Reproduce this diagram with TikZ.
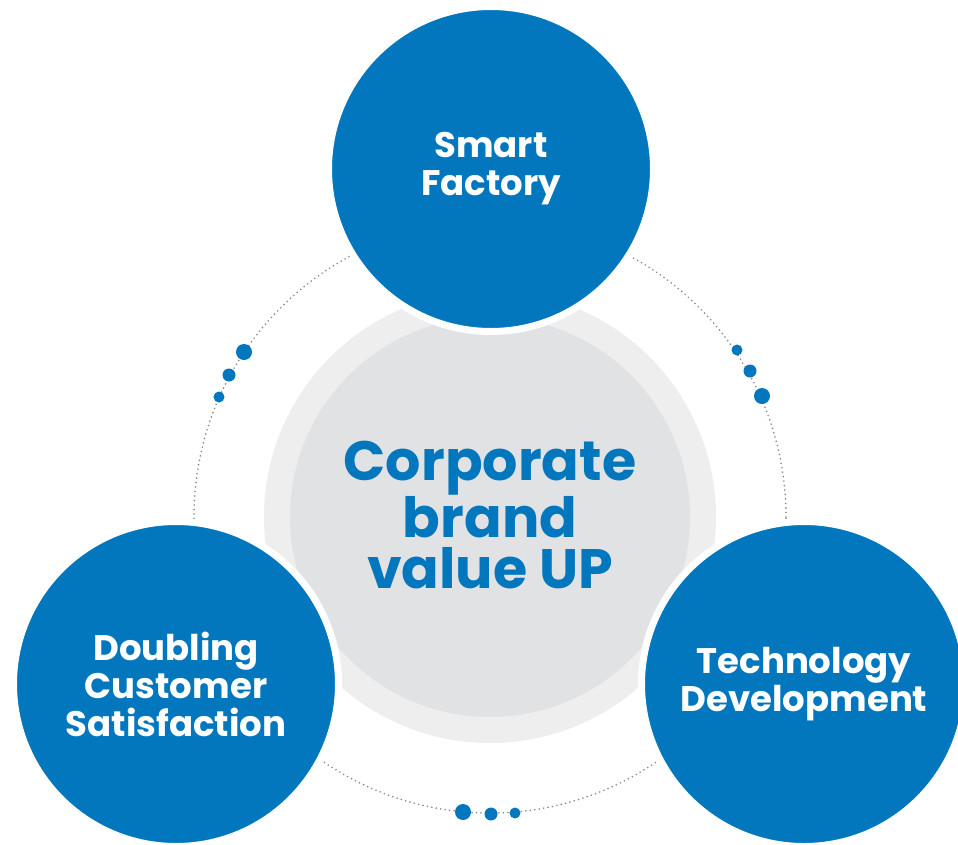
\documentclass[tikz,border=0pt]{standalone}
\usepackage{fontspec}
\setmainfont{Poppins}
\usepackage{xcolor}
\usepackage{tikz}
\usetikzlibrary{positioning}
\definecolor{brandBlue}{RGB}{2,119,190}
\definecolor{ringGray}{RGB}{238,238,239}
\definecolor{coreGray}{RGB}{225,226,228}
\definecolor{orbitGray}{RGB}{135,135,135}
\tikzset{
  pillarCircle/.style={
    circle,
    fill=brandBlue,
    draw=white,
    line width=7pt,
    minimum size=325pt,
    inner sep=0pt,
    text=white,
    font=\fontsize{35.5}{38}\selectfont\bfseries,
    align=center
  },
  grayDisc/.style={
    circle,
    inner sep=0pt
  },
  orbitLine/.style={
    draw=orbitGray,
    line width=1.8pt,
    line cap=round,
    dash pattern=on 0pt off 4.5pt
  },
  orbitDot/.style={
    circle,
    fill=brandBlue,
    inner sep=0pt
  },
  coreText/.style={
    text=brandBlue,
    font=\fontsize{55.5}{51}\selectfont\bfseries,
    align=center
  }
}
\begin{document}
\begin{tikzpicture}[x=1pt,y=-1pt]
        \clip (0,0) rectangle (958,844);
        \fill[white] (0,0) rectangle (958,844);

        \node[grayDisc, fill=ringGray, minimum size=452pt] (ring) at (490,517) {};
        \node[grayDisc, fill=coreGray, minimum size=400pt] (core) at (490,517) {};
        \draw[orbitLine] (core.center) circle (296pt);

        \node[pillarCircle] (factory) at (491,169) {Smart\\Factory};
        \node[pillarCircle] (customer) at (176,684) {Doubling\\Customer\\Satisfaction};
        \node[pillarCircle] (tech) at (804,684) {Technology\\Development};

        \node[orbitDot, minimum size=16pt] (dotL1) at (244,352) {};
        \node[orbitDot, minimum size=13pt] (dotL2) at (229,375) {};
        \node[orbitDot, minimum size=11pt] (dotL3) at (219,397) {};

        \node[orbitDot, minimum size=11pt] (dotR1) at (737,350) {};
        \node[orbitDot, minimum size=13pt] (dotR2) at (750,371) {};
        \node[orbitDot, minimum size=16pt] (dotR3) at (762,396) {};

        \node[orbitDot, minimum size=16pt] (dotB1) at (463,812) {};
        \node[orbitDot, minimum size=13pt] (dotB2) at (491,814) {};
        \node[orbitDot, minimum size=11pt] (dotB3) at (515,813) {};

        \node[coreText] (brand) at (490,515) {Corporate\\brand\\value UP};

    \end{tikzpicture}
\end{document}
